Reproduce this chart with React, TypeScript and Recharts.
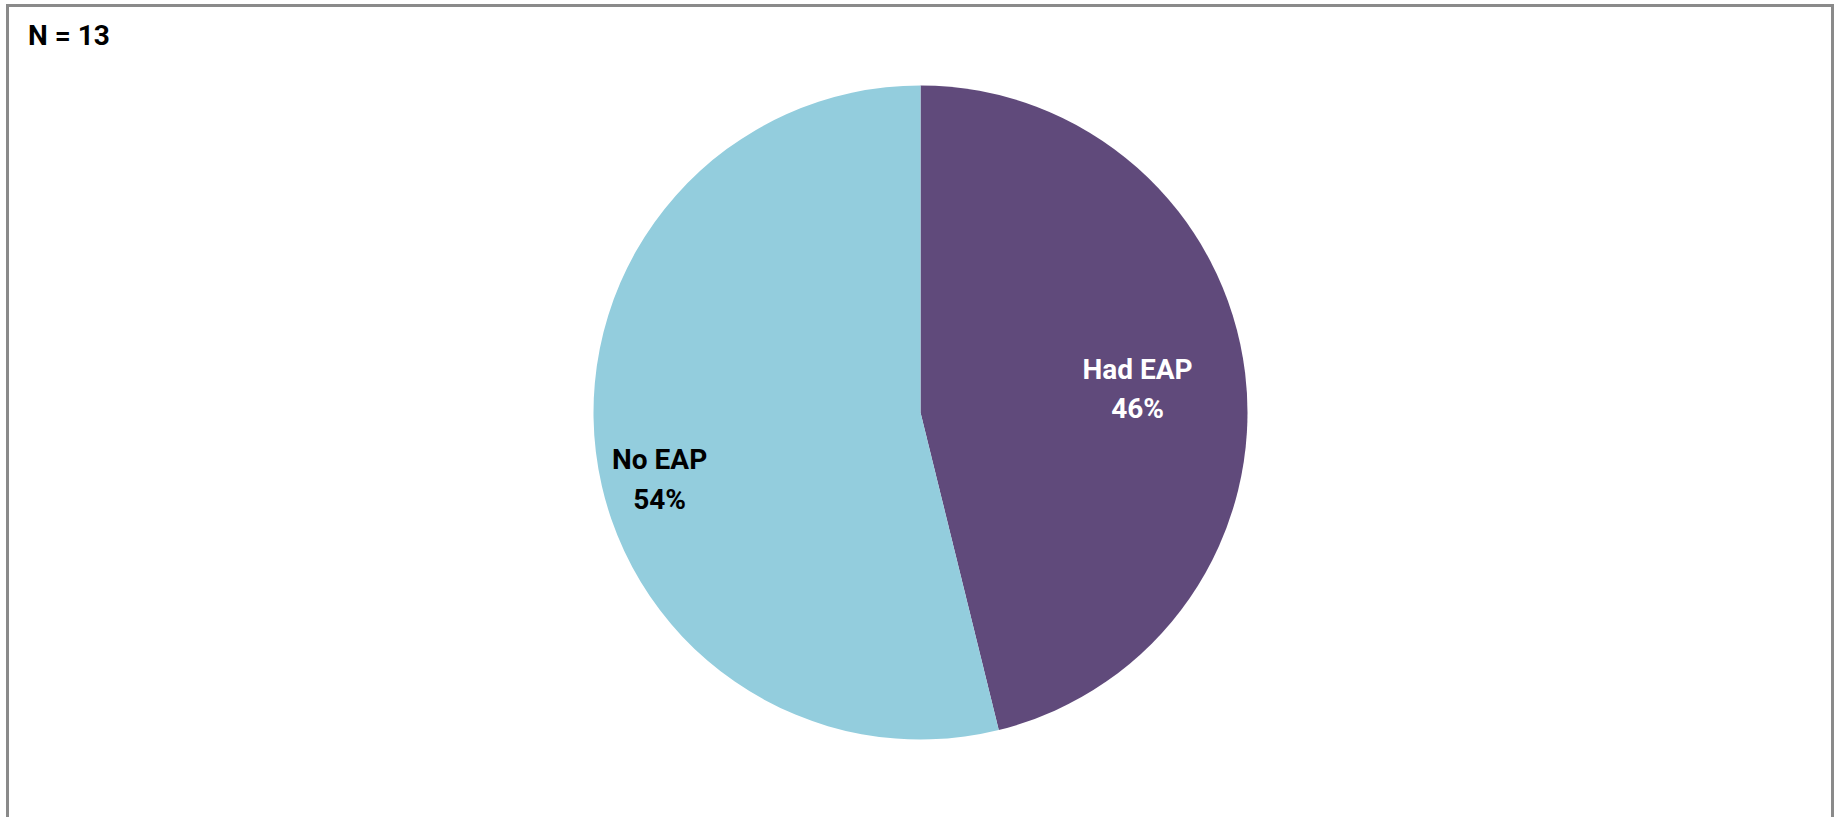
import React from "react";
import { PieChart, Pie, Cell } from "recharts";

const categories = ["Had EAP", "No EAP"];
const counts = [6, 7];
const totalLabel = "N = 13";

const colors = ["#604A7B", "#93CDDD"];
const labelColors = ["#FFFFFF", "#000000"];
const labelRadiusFactor = [0.668, 0.823];
const labelAngleOffset = [-0.5, 7.3];

const data = categories.map((name, i) => ({ name, value: counts[i] }));

const RADIAN = Math.PI / 180;
const FONT = "Roboto, 'Open Sans', sans-serif";

const renderLabel = (props: any) => {
  const { cx, cy, midAngle, outerRadius, percent, index, name } = props;
  const a = midAngle + labelAngleOffset[index];
  const r = outerRadius * labelRadiusFactor[index];
  const x = cx + r * Math.cos(-a * RADIAN);
  const y = cy + r * Math.sin(-a * RADIAN);
  return (
    <text
      x={x}
      y={y}
      textAnchor="middle"
      fill={labelColors[index]}
      fontFamily={FONT}
      fontWeight={700}
      fontSize={28}
    >
      <tspan x={x} y={y - 9.5}>{name}</tspan>
      <tspan x={x} y={y + 30}>{`${Math.round(percent * 100)}%`}</tspan>
    </text>
  );
};

export default function App() {
  return (
    <div style={{ position: "absolute", left: 0, top: 0, width: 1837, height: 817, background: "#fff", overflow: "hidden" }}>
      <div
        style={{
          position: "absolute",
          left: 6,
          top: 4,
          width: 1822,
          height: 830,
          border: "3px solid #8a8a8a",
        }}
      />
      <div
        style={{
          position: "absolute",
          left: 28,
          top: 22,
          fontFamily: FONT,
          fontWeight: 700,
          fontSize: 28,
          lineHeight: "28px",
          color: "#000",
          whiteSpace: "nowrap",
        }}
      >
        {totalLabel}
      </div>
      <div style={{ position: "absolute", left: 0, top: 0 }}>
        <PieChart width={1837} height={817} margin={{ top: 0, right: 0, bottom: 0, left: 0 }}>
          <Pie
            data={data}
            dataKey="value"
            nameKey="name"
            cx={920.5}
            cy={412.5}
            outerRadius={327}
            startAngle={90}
            endAngle={-270}
            stroke="none"
            isAnimationActive={false}
            labelLine={false}
            label={renderLabel}
          >
            {data.map((d, i) => (
              <Cell key={d.name} fill={colors[i]} />
            ))}
          </Pie>
        </PieChart>
      </div>
    </div>
  );
}
